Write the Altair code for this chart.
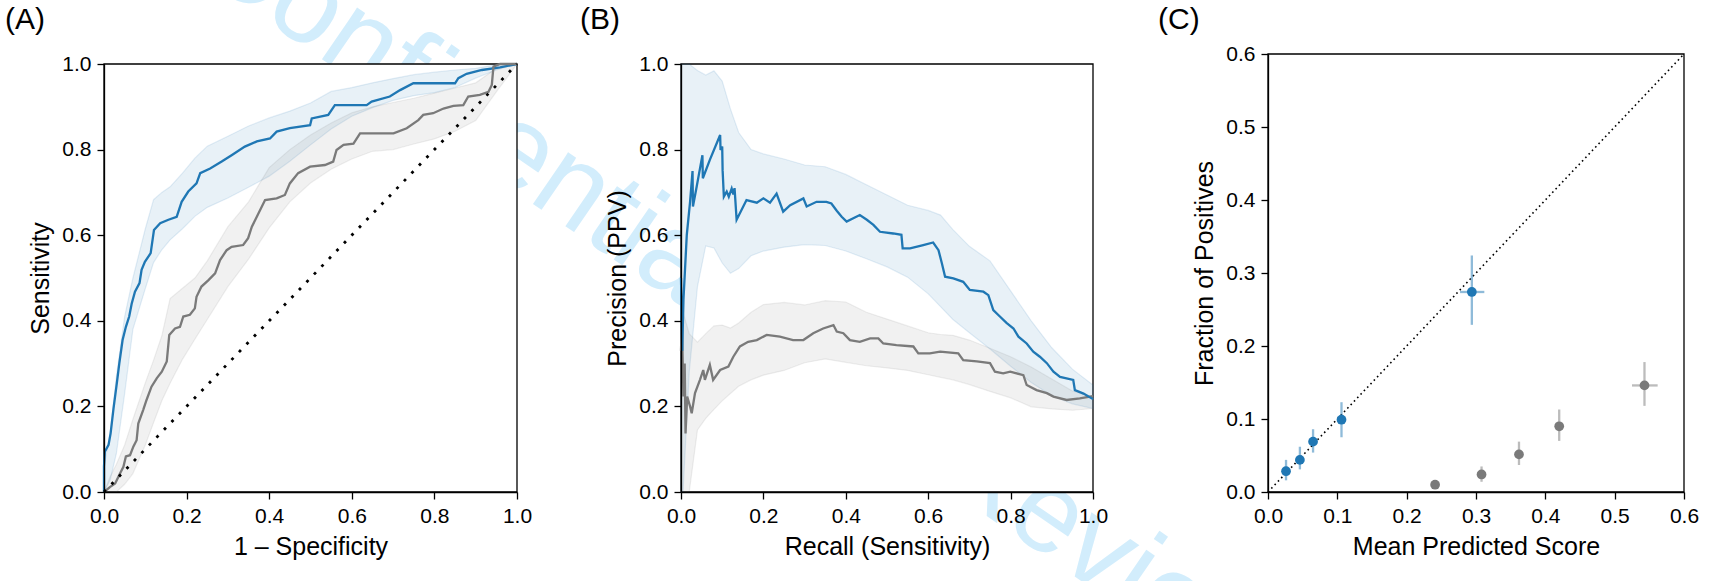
import altair as alt
import pandas as pd

W, H = 1711, 581
FONT = "Liberation Sans"
BLUE = "#1f77b4"
GREY = "#7a7a7a"

# ---------------- Panel A : ROC ----------------
roc_model_fpr = [0.0, 0.0, 0.002, 0.011, 0.016, 0.023, 0.031, 0.037, 0.045, 0.053,
                 0.061, 0.067, 0.075, 0.086, 0.091, 0.099, 0.113, 0.121, 0.136, 0.156,
                 0.176, 0.188, 0.204, 0.224, 0.233, 0.257, 0.285, 0.309, 0.341, 0.370,
                 0.402, 0.418, 0.450, 0.499, 0.503, 0.543, 0.559, 0.636, 0.648, 0.692,
                 0.717, 0.749, 0.850, 0.858, 0.878, 0.915, 0.959, 1.0]
roc_model_tpr = [0.0, 0.06, 0.094, 0.110, 0.137, 0.195, 0.254, 0.300, 0.355, 0.386,
                 0.410, 0.440, 0.468, 0.488, 0.519, 0.538, 0.558, 0.612, 0.628, 0.636,
                 0.643, 0.678, 0.702, 0.721, 0.745, 0.756, 0.772, 0.787, 0.807, 0.819,
                 0.826, 0.842, 0.850, 0.857, 0.873, 0.881, 0.904, 0.904, 0.912, 0.924,
                 0.939, 0.955, 0.955, 0.967, 0.977, 0.986, 0.992, 1.0]
roc_base_fpr = [0.0, 0.015, 0.027, 0.039, 0.047, 0.053, 0.063, 0.071, 0.079, 0.083,
                0.095, 0.103, 0.115, 0.128, 0.140, 0.152, 0.158, 0.172, 0.184, 0.192,
                0.208, 0.220, 0.224, 0.236, 0.253, 0.269, 0.281, 0.297, 0.309, 0.337,
                0.349, 0.358, 0.370, 0.390, 0.418, 0.438, 0.450, 0.470, 0.499, 0.535,
                0.555, 0.563, 0.580, 0.604, 0.620, 0.701, 0.733, 0.761, 0.773, 0.797,
                0.822, 0.846, 0.870, 0.882, 0.910, 0.931, 0.939, 0.943, 0.959, 1.0]
roc_base_tpr = [0.0, 0.012, 0.020, 0.044, 0.059, 0.083, 0.086, 0.106, 0.121, 0.160,
                0.192, 0.215, 0.246, 0.266, 0.281, 0.305, 0.367, 0.382, 0.386, 0.410,
                0.414, 0.429, 0.456, 0.480, 0.495, 0.511, 0.542, 0.565, 0.573, 0.577,
                0.593, 0.620, 0.643, 0.682, 0.686, 0.694, 0.721, 0.745, 0.760, 0.764,
                0.772, 0.799, 0.811, 0.814, 0.838, 0.838, 0.850, 0.869, 0.881, 0.885,
                0.896, 0.902, 0.904, 0.924, 0.928, 0.935, 0.951, 0.994, 1.0, 1.0]
roc_band_fpr = [0.0, 0.015, 0.03, 0.05, 0.07, 0.1, 0.12, 0.14, 0.16, 0.19, 0.22, 0.25,
                0.3, 0.35, 0.4, 0.45, 0.5, 0.55, 0.6, 0.65, 0.7, 0.75, 0.8, 0.85, 0.9,
                0.95, 1.0]
roc_model_hi = [0.06, 0.137, 0.27, 0.41, 0.50, 0.615, 0.683, 0.70, 0.713, 0.745, 0.78,
                0.808, 0.831, 0.855, 0.874, 0.89, 0.909, 0.936, 0.945, 0.956, 0.966,
                0.975, 0.981, 0.986, 0.99, 0.998, 1.0]
roc_model_lo = [0.0, 0.028, 0.09, 0.23, 0.38, 0.475, 0.536, 0.566, 0.589, 0.615, 0.644,
                0.665, 0.687, 0.712, 0.738, 0.773, 0.811, 0.848, 0.878, 0.898, 0.915,
                0.926, 0.933, 0.945, 0.967, 0.986, 1.0]
roc_base_hi = [0.0, 0.036, 0.065, 0.11, 0.17, 0.255, 0.308, 0.365, 0.452, 0.476, 0.50,
               0.54, 0.62, 0.678, 0.758, 0.80, 0.834, 0.862, 0.886, 0.90, 0.91, 0.92,
               0.932, 0.944, 0.956, 0.99, 1.0]
roc_base_lo = [0.0, 0.0, 0.0, 0.018, 0.043, 0.11, 0.162, 0.213, 0.254, 0.31, 0.357,
               0.403, 0.48, 0.544, 0.617, 0.678, 0.722, 0.754, 0.778, 0.796, 0.80,
               0.813, 0.825, 0.843, 0.868, 0.935, 1.0]

# ---------------- Panel B : Precision-Recall ----------------
pr_model_rec = [0.0, 0.003, 0.006, 0.014, 0.022, 0.028, 0.029, 0.038, 0.052, 0.053,
                0.070, 0.095, 0.096, 0.100, 0.101, 0.104, 0.111, 0.116, 0.123, 0.127,
                0.130, 0.135, 0.159, 0.184, 0.200, 0.216, 0.232, 0.248, 0.265, 0.297,
                0.305, 0.329, 0.353, 0.365, 0.378, 0.390, 0.402, 0.434, 0.451, 0.467,
                0.483, 0.515, 0.535, 0.538, 0.556, 0.588, 0.612, 0.625, 0.633, 0.641,
                0.661, 0.685, 0.701, 0.734, 0.746, 0.758, 0.774, 0.790, 0.807, 0.819,
                0.839, 0.855, 0.871, 0.888, 0.904, 0.920, 0.952, 0.956, 0.977, 1.0]
pr_model_prec = [0.5, 0.33, 0.45, 0.60, 0.678, 0.75, 0.667, 0.713, 0.787, 0.733,
                 0.776, 0.834, 0.799, 0.807, 0.752, 0.690, 0.702, 0.69, 0.709, 0.695,
                 0.71, 0.636, 0.682, 0.676, 0.686, 0.676, 0.697, 0.655, 0.67, 0.686,
                 0.667, 0.678, 0.678, 0.674, 0.657, 0.643, 0.632, 0.647, 0.636, 0.624,
                 0.608, 0.604, 0.601, 0.569, 0.569, 0.577, 0.583, 0.565, 0.535, 0.503,
                 0.499, 0.491, 0.472, 0.468, 0.460, 0.425, 0.410, 0.395, 0.382, 0.363,
                 0.347, 0.328, 0.316, 0.301, 0.281, 0.269, 0.262, 0.238, 0.230, 0.217]
pr_base_rec = [0.0, 0.002, 0.006, 0.009, 0.011, 0.015, 0.022, 0.026, 0.034, 0.046,
               0.054, 0.058, 0.070, 0.078, 0.095, 0.115, 0.127, 0.143, 0.163, 0.184,
               0.208, 0.240, 0.272, 0.297, 0.321, 0.345, 0.370, 0.378, 0.394, 0.410,
               0.434, 0.459, 0.479, 0.491, 0.523, 0.564, 0.576, 0.604, 0.629, 0.673,
               0.685, 0.718, 0.750, 0.762, 0.782, 0.799, 0.831, 0.839, 0.863, 0.888,
               0.904, 0.936, 0.968, 1.0]
pr_base_prec = [0.33, 0.402, 0.223, 0.30, 0.137, 0.223, 0.2, 0.184, 0.231, 0.262,
                0.285, 0.262, 0.297, 0.262, 0.285, 0.293, 0.316, 0.340, 0.351, 0.355,
                0.367, 0.363, 0.355, 0.355, 0.371, 0.382, 0.390, 0.375, 0.371, 0.355,
                0.351, 0.359, 0.359, 0.347, 0.343, 0.340, 0.324, 0.324, 0.328, 0.324,
                0.308, 0.305, 0.301, 0.281, 0.277, 0.281, 0.273, 0.250, 0.238, 0.231,
                0.223, 0.215, 0.219, 0.224]
pr_band_rec = [0.0, 0.005, 0.02, 0.04, 0.06, 0.08, 0.1, 0.12, 0.14, 0.17, 0.2, 0.25,
               0.3, 0.35, 0.4, 0.45, 0.5, 0.55, 0.6, 0.63, 0.66, 0.7, 0.75, 0.8, 0.85,
               0.9, 0.95, 1.0]
pr_model_hi = [1.0, 1.0, 1.0, 0.985, 0.974, 0.984, 0.96, 0.895, 0.84, 0.80, 0.79, 0.778,
               0.764, 0.76, 0.742, 0.718, 0.694, 0.67, 0.658, 0.647, 0.613, 0.574, 0.54,
               0.47, 0.40, 0.337, 0.287, 0.25]
pr_model_lo = [0.0, 0.0, 0.28, 0.48, 0.575, 0.57, 0.535, 0.511, 0.522, 0.552, 0.563,
               0.572, 0.578, 0.576, 0.563, 0.545, 0.526, 0.502, 0.463, 0.433, 0.403,
               0.372, 0.334, 0.294, 0.256, 0.225, 0.206, 0.195]
pr_base_hi = [0.40, 0.42, 0.37, 0.35, 0.37, 0.388, 0.39, 0.383, 0.395, 0.42, 0.438,
              0.443, 0.437, 0.447, 0.444, 0.42, 0.404, 0.388, 0.372, 0.368, 0.366,
              0.355, 0.336, 0.316, 0.292, 0.264, 0.236, 0.223]
pr_base_lo = [0.0, 0.0, 0.0, 0.145, 0.172, 0.193, 0.213, 0.23, 0.247, 0.262, 0.273,
              0.284, 0.302, 0.311, 0.303, 0.295, 0.29, 0.284, 0.274, 0.268, 0.262,
              0.251, 0.235, 0.22, 0.199, 0.194, 0.191, 0.195]

# ---------------- Panel C : Calibration ----------------
cal_model_x = [0.026, 0.046, 0.065, 0.106, 0.294]
cal_model_y = [0.0285, 0.044, 0.069, 0.099, 0.274]
cal_model_xlo = [0.024, 0.044, 0.063, 0.103, 0.277]
cal_model_xhi = [0.028, 0.048, 0.067, 0.109, 0.312]
cal_model_ylo = [0.016, 0.031, 0.054, 0.075, 0.229]
cal_model_yhi = [0.044, 0.062, 0.086, 0.123, 0.324]
cal_base_x = [0.241, 0.308, 0.362, 0.420, 0.543]
cal_base_y = [0.010, 0.024, 0.0515, 0.090, 0.146]
cal_base_xlo = [0.238, 0.305, 0.359, 0.414, 0.525]
cal_base_xhi = [0.244, 0.311, 0.365, 0.427, 0.562]
cal_base_ylo = [0.007, 0.014, 0.037, 0.070, 0.118]
cal_base_yhi = [0.013, 0.035, 0.069, 0.113, 0.178]

# ---------------- Axes / texts ----------------
ticks_unit = [0.0, 0.2, 0.4, 0.6, 0.8, 1.0]
ticks_cal = [0.0, 0.1, 0.2, 0.3, 0.4, 0.5, 0.6]
dom_unit = [0.0, 1.0]
dom_cal = [0.0, 0.6]
panel_labels = ["(A)", "(B)", "(C)"]
watermark = ["Confidential: For Review Only"]

# plot boxes in page pixels (left, right, top, bottom)
BOX_A = (104, 517, 64, 492)
BOX_B = (681, 1093, 64, 492)
BOX_C = (1268, 1684, 54, 492)


def make_xy(box, xdom, ydom, xticks, yticks, xtitle, ytitle):
    left, right, top, bottom = box
    xs = alt.Scale(domain=xdom, range=[left, right], nice=False, zero=False)
    ys = alt.Scale(domain=ydom, range=[bottom, top], nice=False, zero=False)
    xa = alt.Axis(orient="bottom", offset=bottom - H, values=xticks, format=".1f",
                  title=xtitle, zindex=1)
    ya = alt.Axis(orient="left", offset=-left, values=yticks, format=".1f",
                  title=ytitle, zindex=1)

    def X(f):
        return alt.X(f, type="quantitative", scale=xs, axis=xa)

    def Y(f):
        return alt.Y(f, type="quantitative", scale=ys, axis=ya)
    return X, Y


def frame(X, Y, xdom, ydom):
    df = pd.DataFrame({"x0": [xdom[0]], "x1": [xdom[1]], "y0": [ydom[0]], "y1": [ydom[1]]})
    return alt.Chart(df).mark_rect(fill="white", stroke="black", strokeWidth=1.3).encode(
        x=X("x0"), x2=alt.X2("x1"), y=Y("y0"), y2=alt.Y2("y1"))


def band(X, Y, xs, lo, hi, color):
    df = pd.DataFrame({"x": xs, "lo": lo, "hi": hi})
    return alt.Chart(df).mark_area(fill=color, fillOpacity=0.1, stroke=color,
                                   strokeOpacity=0.12, strokeWidth=1.2).encode(
        x=X("x"), y=Y("lo"), y2=alt.Y2("hi"))


def curve(X, Y, xs, ys, color, width=2.3):
    df = pd.DataFrame({"x": xs, "y": ys, "i": list(range(len(xs)))})
    return alt.Chart(df).mark_line(color=color, strokeWidth=width).encode(
        x=X("x"), y=Y("y"), order=alt.Order("i:Q"))


def diagonal(X, Y, dom, dash, width):
    df = pd.DataFrame({"x": dom, "y": dom})
    return alt.Chart(df).mark_line(color="black", strokeDash=dash, strokeWidth=width).encode(
        x=X("x"), y=Y("y"))


# Panel A
XA, YA = make_xy(BOX_A, dom_unit, dom_unit, ticks_unit, ticks_unit,
                 "1 \u2013 Specificity", "Sensitivity")
panel_a = alt.layer(
    frame(XA, YA, dom_unit, dom_unit),
    band(XA, YA, roc_band_fpr, roc_model_lo, roc_model_hi, BLUE),
    band(XA, YA, roc_band_fpr, roc_base_lo, roc_base_hi, GREY),
    curve(XA, YA, roc_model_fpr, roc_model_tpr, BLUE),
    curve(XA, YA, roc_base_fpr, roc_base_tpr, GREY),
    diagonal(XA, YA, dom_unit, [2.8, 8], 2.8),
)

# Panel B
XB, YB = make_xy(BOX_B, dom_unit, dom_unit, ticks_unit, ticks_unit,
                 "Recall (Sensitivity)", "Precision (PPV)")
panel_b = alt.layer(
    frame(XB, YB, dom_unit, dom_unit),
    band(XB, YB, pr_band_rec, pr_model_lo, pr_model_hi, BLUE),
    band(XB, YB, pr_band_rec, pr_base_lo, pr_base_hi, GREY),
    curve(XB, YB, pr_base_rec, pr_base_prec, GREY),
    curve(XB, YB, pr_model_rec, pr_model_prec, BLUE),
)

# Panel C
XC, YC = make_xy(BOX_C, dom_cal, dom_cal, ticks_cal, ticks_cal,
                 "Mean Predicted Score", "Fraction of Positives")


def cal_layers(xs, ys, xlo, xhi, ylo, yhi, color):
    df = pd.DataFrame({"x": xs, "y": ys, "xlo": xlo, "xhi": xhi, "ylo": ylo, "yhi": yhi})
    base = alt.Chart(df)
    vbar = base.mark_rule(color=color, opacity=0.5, strokeWidth=2.3).encode(
        x=XC("x"), y=YC("ylo"), y2=alt.Y2("yhi"))
    hbar = base.mark_rule(color=color, opacity=0.5, strokeWidth=2.3).encode(
        x=XC("xlo"), x2=alt.X2("xhi"), y=YC("y"))
    pts = base.mark_circle(color=color, opacity=1, size=95).encode(x=XC("x"), y=YC("y"))
    return [vbar, hbar, pts]


panel_c = alt.layer(
    frame(XC, YC, dom_cal, dom_cal),
    diagonal(XC, YC, dom_cal, [1.6, 3.2], 1.6),
    *cal_layers(cal_model_x, cal_model_y, cal_model_xlo, cal_model_xhi,
                cal_model_ylo, cal_model_yhi, BLUE),
    *cal_layers(cal_base_x, cal_base_y, cal_base_xlo, cal_base_xhi,
                cal_base_ylo, cal_base_yhi, GREY),
)

# Watermark and panel labels
wm = alt.Chart(pd.DataFrame({"t": watermark})).mark_text(
    font=FONT, fontSize=118, color="#d2edfc", angle=34.5, align="left",
    baseline="alphabetic").encode(x=alt.value(191), y=alt.value(-31), text="t:N")


def plabel(txt, xpix):
    return alt.Chart(pd.DataFrame({"t": [txt]})).mark_text(
        font=FONT, fontSize=30, color="black", align="left", baseline="alphabetic"
    ).encode(x=alt.value(xpix), y=alt.value(29), text="t:N")


lab_a = plabel(panel_labels[0], 5)
lab_b = plabel(panel_labels[1], 580)
lab_c = plabel(panel_labels[2], 1158)

chart = alt.layer(
    wm, panel_a, panel_b, panel_c, lab_a, lab_b, lab_c
).resolve_scale(
    x="independent", y="independent"
).properties(
    width=W, height=H, padding=0, autosize=alt.AutoSizeParams(type="none"),
    background="white"
).configure_view(
    strokeWidth=0
).configure_axis(
    labelFont=FONT, labelFontSize=21, labelColor="black",
    titleFont=FONT, titleFontSize=25, titleFontWeight="normal", titleColor="black",
    domainColor="black", domainWidth=1.3, tickColor="black", tickWidth=1.3,
    tickSize=7, labelPadding=6, titlePadding=8, grid=False, labelFlush=False,
    labelOverlap=False
)

chart.save("out.html", embed_options={"renderer": "svg", "actions": False})
